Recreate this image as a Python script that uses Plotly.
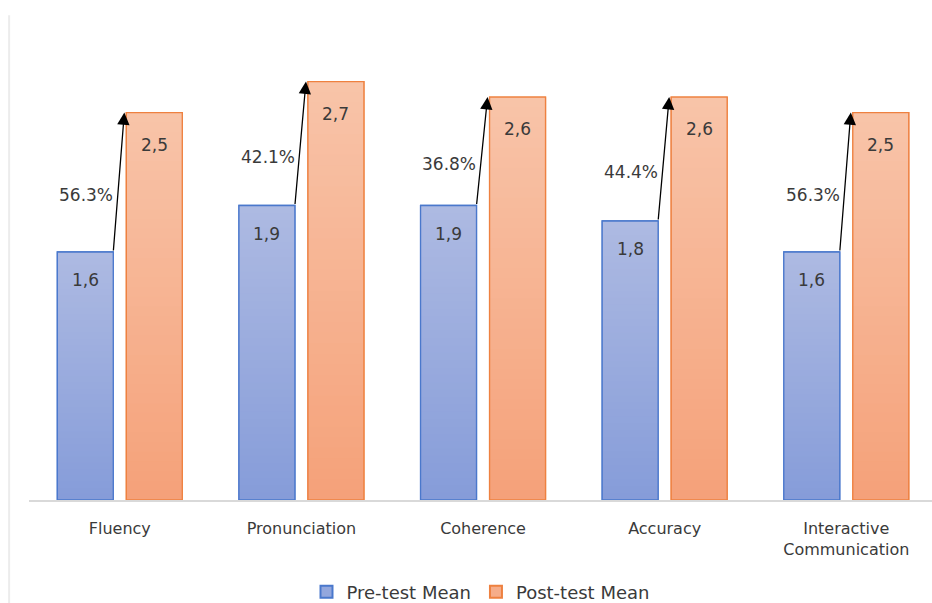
import plotly.graph_objects as go

categories = ["Fluency", "Pronunciation", "Coherence", "Accuracy", "Interactive<br>Communication"]
pre_mean = [1.6, 1.9, 1.9, 1.8, 1.6]
post_mean = [2.5, 2.7, 2.6, 2.6, 2.5]
pre_labels = ["1,6", "1,9", "1,9", "1,8", "1,6"]
post_labels = ["2,5", "2,7", "2,6", "2,6", "2,5"]
pct_labels = ["56.3%", "42.1%", "36.8%", "44.4%", "56.3%"]

FONT = "DejaVu Sans"
TXT = "#3a3a3a"
N = 40
BW = 0.308
PRE_OFF = -0.344
POST_OFF = 0.036

def hex2rgb(h):
    h = h.lstrip("#")
    return tuple(int(h[i:i + 2], 16) for i in (0, 2, 4))

def mix(c0, c1, t):
    a, b = hex2rgb(c0), hex2rgb(c1)
    return "rgb(%d,%d,%d)" % tuple(round(a[i] + (b[i] - a[i]) * t) for i in range(3))

series = [
    dict(name="Pre-test Mean", vals=pre_mean, off=PRE_OFF, bottom="#869cd9", top="#adbae2",
         mid="#93a7dd", line="#4a78cc"),
    dict(name="Post-test Mean", vals=post_mean, off=POST_OFF, bottom="#f5a179", top="#f8c4a9",
         mid="#f6ad8a", line="#ee8140"),
]

xs = list(range(len(categories)))
fig = go.Figure()
for s in series:
    fig.add_trace(go.Bar(x=xs, y=s["vals"], width=BW, offset=s["off"], name=s["name"],
                         marker=dict(color=s["mid"], line=dict(color=s["line"], width=1.3)),
                         showlegend=True, hoverinfo="skip"))
    for k in range(N, 0, -1):
        frac = k / N
        col = mix(s["bottom"], s["top"], (k - 0.5) / N)
        fig.add_trace(go.Bar(x=xs, y=[v * frac for v in s["vals"]], width=BW, offset=s["off"],
                             marker=dict(color=col, line=dict(width=0)),
                             showlegend=False, hoverinfo="skip"))
    fig.add_trace(go.Bar(x=xs, y=s["vals"], width=BW, offset=s["off"],
                         marker=dict(color="rgba(0,0,0,0)", line=dict(color=s["line"], width=1.3)),
                         showlegend=False, hoverinfo="skip"))

ann = []
for i in xs:
    ann.append(dict(x=i + PRE_OFF + BW / 2, y=pre_mean[i], text=pre_labels[i], showarrow=False,
                    yshift=-28, font=dict(family=FONT, size=17, color=TXT)))
    ann.append(dict(x=i + POST_OFF + BW / 2, y=post_mean[i], text=post_labels[i], showarrow=False,
                    yshift=-32, font=dict(family=FONT, size=17, color=TXT)))
    ann.append(dict(x=i + 0.025, y=post_mean[i], ax=i - 0.036, ay=pre_mean[i],
                    xref="x", yref="y", axref="x", ayref="y", text="", showarrow=True,
                    arrowhead=2, arrowsize=1.9, arrowwidth=1.3, arrowcolor="#000000", standoff=0))
    ann.append(dict(x=i - 0.026, y=(pre_mean[i] + post_mean[i]) / 2, text=pct_labels[i],
                    showarrow=False, xanchor="right", yshift=-13,
                    font=dict(family=FONT, size=17, color=TXT)))

fig.update_layout(
    width=932, height=603,
    margin=dict(l=29, r=0, t=20, b=103),
    paper_bgcolor="white", plot_bgcolor="white",
    barmode="overlay",
    font=dict(family=FONT, color=TXT),
    xaxis=dict(tickvals=xs, ticktext=categories, range=[-0.5, 4.472],
               showline=True, linecolor="#d9d9d9", linewidth=1.5, showgrid=False,
               ticks="outside", ticklen=13, tickcolor="rgba(0,0,0,0)",
               tickfont=dict(family=FONT, size=16, color=TXT), zeroline=False),
    yaxis=dict(range=[0, 3.097], visible=False, showgrid=False, zeroline=False),
    legend=dict(orientation="h", x=0.5, xanchor="center", xref="paper",
                y=0.018, yanchor="middle", yref="container",
                font=dict(family=FONT, size=18, color=TXT), itemsizing="constant",
                tracegroupgap=0, itemwidth=30),
    annotations=ann,
    shapes=[dict(type="line", xref="paper", yref="paper", x0=-0.022, x1=-0.022,
                 y0=1.01, y1=-0.22, line=dict(color="#ececec", width=2), layer="below")],
    showlegend=True,
)

fig.write_html("out.html")
